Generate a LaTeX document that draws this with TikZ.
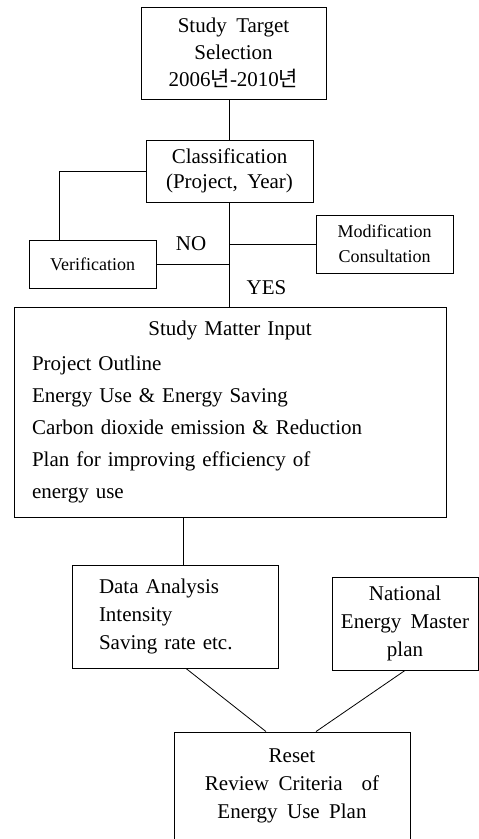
\documentclass[tikz,border=0pt]{standalone}
\usepackage{fontspec}
\setmainfont{Liberation Serif}[WordSpace=1.8]
\newfontfamily\kr{Noto Sans CJK KR}
\usepackage{tikz}
\usetikzlibrary{positioning}

\begin{document}
\begin{tikzpicture}[
    x=1pt, y=-1pt,
    box/.style={draw, rectangle, align=center, line width=0.9pt, inner sep=0pt, font=\fontsize{21}{27}\selectfont},
    smallbox/.style={box, font=\fontsize{18}{25}\selectfont},
    tag/.style={inner sep=0pt, font=\fontsize{21}{25}\selectfont},
    line/.style={draw, line width=0.8pt}
]
    \useasboundingbox (0,0) rectangle (479,839);

    % Nodes
    \node[box, minimum width=185pt, minimum height=92pt] (target) at (233.5,53) {Study Target\\Selection\\2006{\kr 년}-2010{\kr 년}};
    \node[box, minimum width=167pt, minimum height=62pt, font=\fontsize{21}{25}\selectfont] (classify) at (229.5,171) {Classification\\(Project, Year)};
    \node[smallbox, minimum width=127pt, minimum height=48pt] (verify) at (92.5,264) {Verification};
    \node[smallbox, minimum width=137pt, minimum height=58pt] (modify) at (384.5,244) {Modification\\Consultation};
    \node[box, minimum width=432pt, minimum height=210pt, text width=396pt, align=left, font=\fontsize{21}{32}\selectfont] (input) at (230,412)
        {\makebox[396pt]{Study Matter Input}\\[3pt]
         Project Outline\\
         Energy Use \& Energy Saving\\
         Carbon dioxide emission \& Reduction\\
         Plan for improving efficiency of\\
         energy use};
    \node[box, minimum width=206pt, minimum height=103pt, text width=152pt, align=left, font=\fontsize{21}{28}\selectfont] (analysis) at (175,616.5) {Data Analysis\\Intensity\\Saving rate etc.};
    \node[box, minimum width=146pt, minimum height=93pt, font=\fontsize{21}{28}\selectfont] (plan) at (405,623.5) {National\\Energy Master\\plan};
    \node[box, minimum width=236pt, minimum height=108pt, font=\fontsize{21}{28}\selectfont] (reset) at (292,786) {Reset\\Review Criteria \ of\\Energy Use Plan};

    % Connections
    \coordinate (split) at (verify.east -| classify.south);
    \coordinate (drop) at ([xshift=8pt]analysis.north);
    \draw[line] (target.south -| classify.north) -- (classify.north);
    \draw[line] (classify.west) -| ([xshift=31pt]verify.north west);
    \draw[line] (classify.south) -- (classify.south |- input.north);
    \draw[line] (verify.east) -- (split);
    \draw[line] (modify.west -| classify.south) -- (modify.west);
    \draw[line] (drop |- input.south) -- (drop);
    \draw[line] ([xshift=11pt]analysis.south) -- ([xshift=-26pt]reset.north);
    \draw[line] (plan.south) -- ([xshift=24pt]reset.north);

    % Labels
    \node[tag, above left=13pt and 23pt of split] (no) {NO};
    \node[tag, below right=16pt and 17pt of split] (yes) {YES};
\end{tikzpicture}
\end{document}
